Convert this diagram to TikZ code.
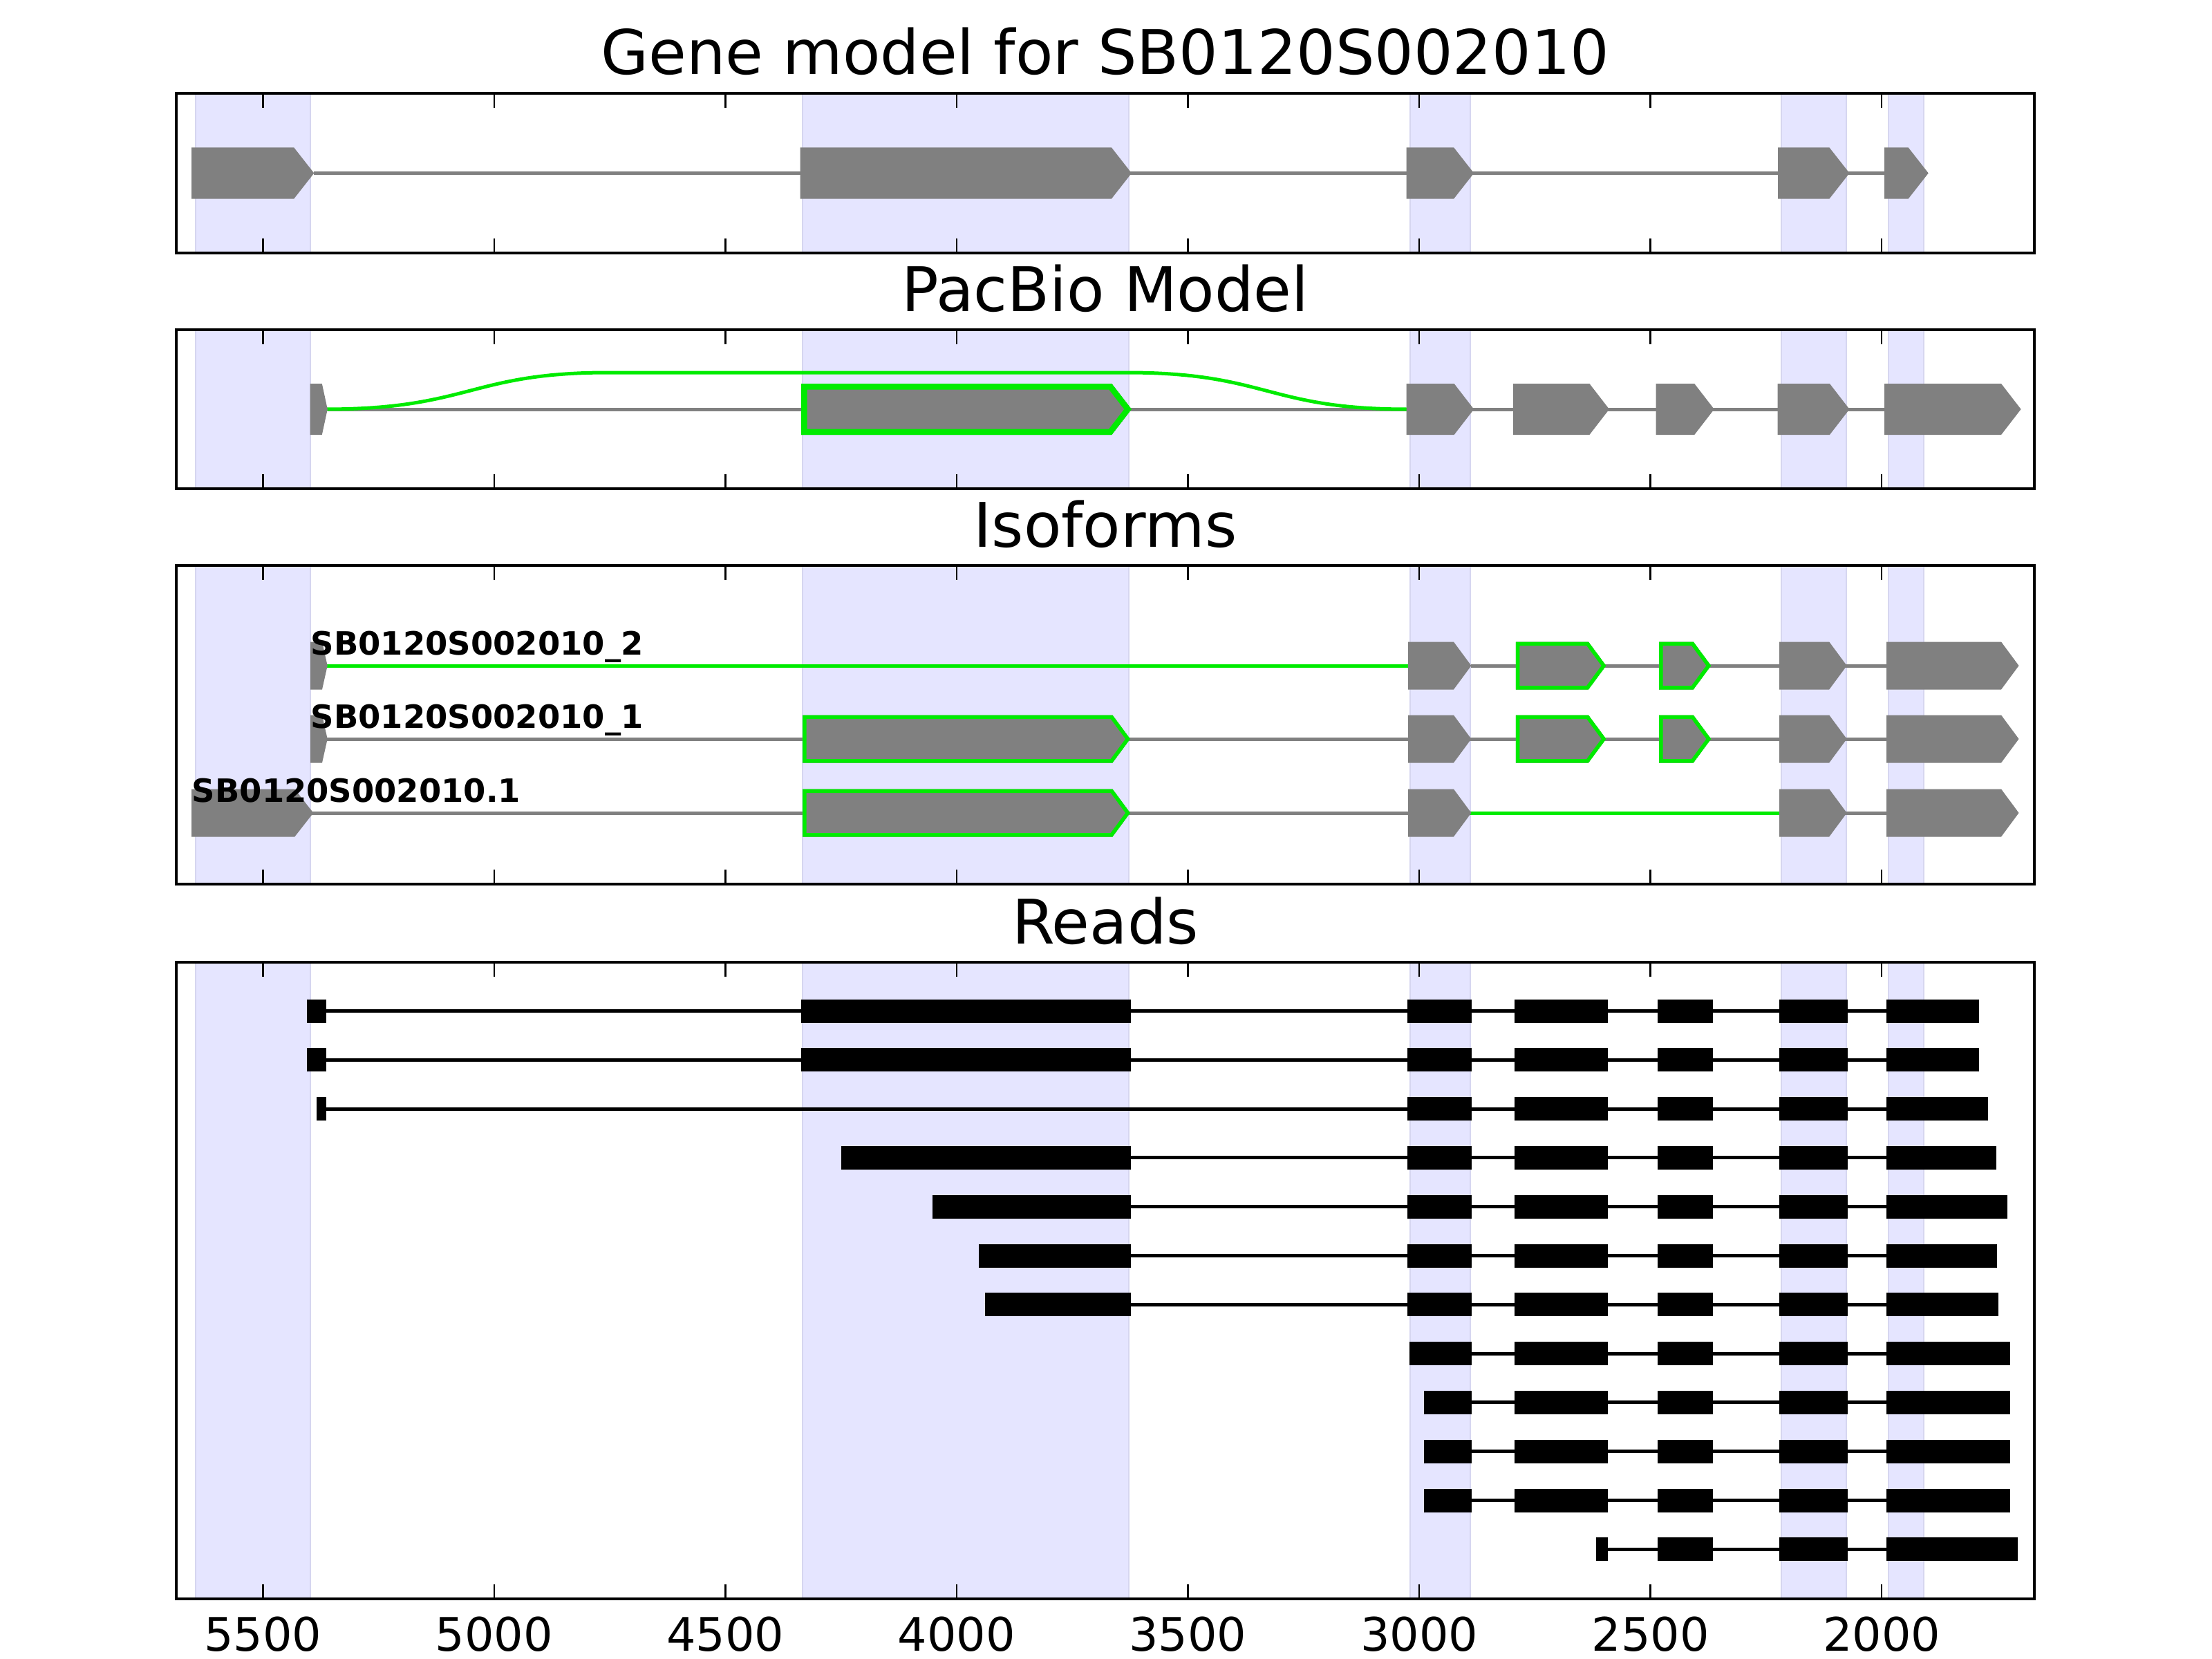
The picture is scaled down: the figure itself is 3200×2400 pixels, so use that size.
\documentclass[tikz,border=0pt]{standalone}
\usepackage{fontspec}
\setmainfont{DejaVu Sans}
\definecolor{exgray}{RGB}{128,128,128}
\definecolor{isogreen}{RGB}{0,235,0}
\definecolor{spanfill}{RGB}{229,229,255}
\definecolor{spanline}{RGB}{214,214,240}
\tikzset{
 spanbox/.style={fill=spanfill, draw=none},
 spanedge/.style={draw=spanline, line width=0.025cm},
 framebox/.style={draw=black, line width=0.045cm},
 tickmark/.style={draw=black, line width=0.025cm},
 intron/.style={draw=exgray, line width=0.05cm},
 gintron/.style={draw=isogreen, line width=0.05cm},
 exonfill/.style={fill=exgray},
 readline/.style={draw=black, line width=0.05cm},
 readblk/.style={fill=black},
 titletext/.style={anchor=base, font=\fontsize{25.3}{30}\selectfont, inner sep=0},
 ticktext/.style={anchor=base, font=\fontsize{19}{22}\selectfont, inner sep=0},
 isotext/.style={anchor=base west, font=\bfseries\fontsize{13.2}{15}\selectfont, inner sep=0},
}
% exon arrow: start, tip, ycenter, halfheight, headlength
\newcommand\gmexon[5]{\fill[exonfill] (#1,{#3-#4}) -- ({#2-#5},{#3-#4}) -- (#2,#3) -- ({#2-#5},{#3+#4}) -- (#1,{#3+#4}) -- cycle;}
\newcommand\gmgexon[6]{\begin{scope}
 \clip (#1,{#3-#4}) -- ({#2-#5},{#3-#4}) -- (#2,#3) -- ({#2-#5},{#3+#4}) -- (#1,{#3+#4}) -- cycle;
 \fill[exonfill] (#1,{#3-#4}) -- ({#2-#5},{#3-#4}) -- (#2,#3) -- ({#2-#5},{#3+#4}) -- (#1,{#3+#4}) -- cycle;
 \draw[isogreen, line width=#6] (#1,{#3-#4}) -- ({#2-#5},{#3-#4}) -- (#2,#3) -- ({#2-#5},{#3+#4}) -- (#1,{#3+#4}) -- cycle;
 \end{scope}}
\newcommand\gmspans[2]{\foreach \sa/\sb in {283/449,1161/1633,2040/2127,2577/2671,2732/2783}{
  \fill[spanbox] (\sa,#1) rectangle (\sb,#2);
  \draw[spanedge] (\sa,#1) -- (\sa,#2) (\sb,#1) -- (\sb,#2);}}
\newcommand\gmframe[2]{\foreach \tx in {380.3,714.9,1049.4,1384.0,1718.5,2053.1,2387.6,2722.2}{
  \draw[tickmark] (\tx,#1) -- ++(0,21);
  \draw[tickmark] (\tx,#2) -- ++(0,-21);}
  \draw[framebox] (255,#1) rectangle (2943,#2);}
\newcommand\gmread[2]{\foreach \ra/\rb in {#2}{\fill[readblk] (\ra,{#1-17}) rectangle (\rb,{#1+17});}}
\begin{document}
\begin{tikzpicture}[x=0.01cm, y=-0.01cm]
\useasboundingbox (0,0) rectangle (3200,2400);
% ---------- titles
\node[titletext] (t1) at (1599,108) {Gene model for SB0120S002010};
\node[titletext] (t2) at (1599,450) {PacBio Model};
\node[titletext] (t3) at (1599,791) {Isoforms};
\node[titletext] (t4) at (1599,1365) {Reads};
% ---------- panel 1
\gmspans{135}{366}
\draw[intron] (454,250.5) -- (2726,250.5);
\gmexon{277.1}{454.3}{250.5}{37}{29}
\gmexon{1157.5}{1637}{250.5}{37}{29}
\gmexon{2034.6}{2132.2}{250.5}{37}{29}
\gmexon{2572.2}{2675.5}{250.5}{37}{29}
\gmexon{2726}{2789.7}{250.5}{37}{29}
\gmframe{135}{366}
% ---------- panel 2
\gmspans{477}{707}
\draw[intron] (474,592) -- (2726,592);
\draw[gintron] (470,592) .. controls (680,592) and (680,539) .. (880,539) -- (1630,539) .. controls (1833,539) and (1833,592) .. (2036,592);
\gmexon{448.6}{473.8}{592}{37}{8}
\gmgexon{1159}{1637}{592}{37}{28.6}{0.17cm}
\gmexon{2034.6}{2132.2}{592}{37}{28.6}
\gmexon{2189}{2328}{592}{37}{28.6}
\gmexon{2395.6}{2479.8}{592}{37}{28.6}
\gmexon{2571.6}{2675.5}{592}{37}{28.6}
\gmexon{2726}{2923.6}{592}{37}{28.6}
\gmframe{477}{707}
% ---------- panel 3
\gmspans{818}{1279}
% row 1
\draw[intron] (2128,963) -- (2729,963);
\draw[gintron] (468,963) -- (2041,963);
\gmexon{449}{473.7}{963}{34.5}{7.7}
\gmexon{2037.2}{2128.4}{963}{34.5}{25.5}
\gmgexon{2192.8}{2323.5}{963}{34.5}{25.5}{0.11cm}
\gmgexon{2400}{2475.3}{963}{34.5}{25.5}{0.11cm}
\gmexon{2574.2}{2671.7}{963}{34.5}{25.5}
\gmexon{2729.1}{2920.5}{963}{34.5}{25.5}
% row 2
\draw[intron] (470,1069) -- (2729,1069);
\gmexon{449}{473.7}{1069}{34.5}{7.7}
\gmgexon{1161}{1635}{1069}{34.5}{25.5}{0.11cm}
\gmexon{2037.2}{2128.4}{1069}{34.5}{25.5}
\gmgexon{2192.8}{2323.5}{1069}{34.5}{25.5}{0.11cm}
\gmgexon{2400}{2475.3}{1069}{34.5}{25.5}{0.11cm}
\gmexon{2574.2}{2671.7}{1069}{34.5}{25.5}
\gmexon{2729.1}{2920.5}{1069}{34.5}{25.5}
% row 3
\draw[intron] (450,1176) -- (2729,1176);
\draw[gintron] (2127,1176) -- (2578,1176);
\gmexon{277.2}{453.3}{1176}{34.5}{27}
\gmgexon{1161}{1635}{1176}{34.5}{25.5}{0.11cm}
\gmexon{2037.2}{2128.4}{1176}{34.5}{25.5}
\gmexon{2574.2}{2671.7}{1176}{34.5}{25.5}
\gmexon{2729.1}{2920.5}{1176}{34.5}{25.5}
\node[isotext] (l2) at (449,947) {SB0120S002010\_2};
\node[isotext] (l1) at (449,1053) {SB0120S002010\_1};
\node[isotext] (l0) at (277.2,1160) {SB0120S002010.1};
\gmframe{818}{1279}
% ---------- panel 4 reads
\gmspans{1392}{2313}
\draw[readline] (444,1462.5) -- (2863,1462.5);
\gmread{1462.5}{444/471.5,1159.4/1635.7,2036.3/2129.4,2191.3/2326.3,2398.1/2477.5,2573.8/2673.1,2728.8/2863}
\draw[readline] (444,1533.3) -- (2863,1533.3);
\gmread{1533.3}{444/471.5,1159.4/1635.7,2036.3/2129.4,2191.3/2326.3,2398.1/2477.5,2573.8/2673.1,2728.8/2863}
\draw[readline] (458,1604.1) -- (2875.5,1604.1);
\gmread{1604.1}{458/471.5,2036.3/2129.4,2191.3/2326.3,2398.1/2477.5,2573.8/2673.1,2728.8/2875.5}
\draw[readline] (1217,1674.9) -- (2887.7,1674.9);
\gmread{1674.9}{1217/1635.7,2036.3/2129.4,2191.3/2326.3,2398.1/2477.5,2573.8/2673.1,2728.8/2887.7}
\draw[readline] (1349,1745.7) -- (2904,1745.7);
\gmread{1745.7}{1349/1635.7,2036.3/2129.4,2191.3/2326.3,2398.1/2477.5,2573.8/2673.1,2728.8/2904}
\draw[readline] (1416.3,1816.5) -- (2889.4,1816.5);
\gmread{1816.5}{1416.3/1635.7,2036.3/2129.4,2191.3/2326.3,2398.1/2477.5,2573.8/2673.1,2728.8/2889.4}
\draw[readline] (1424.5,1887.3) -- (2890.6,1887.3);
\gmread{1887.3}{1424.5/1635.7,2036.3/2129.4,2191.3/2326.3,2398.1/2477.5,2573.8/2673.1,2728.8/2890.6}
\draw[readline] (2038.8,1958.1) -- (2908,1958.1);
\gmread{1958.1}{2038.8/2129.4,2191.3/2326.3,2398.1/2477.5,2573.8/2673.1,2728.8/2908}
\draw[readline] (2060,2028.9) -- (2908,2028.9);
\gmread{2028.9}{2060/2129.4,2191.3/2326.3,2398.1/2477.5,2573.8/2673.1,2728.8/2908}
\draw[readline] (2060,2099.7) -- (2908,2099.7);
\gmread{2099.7}{2060/2129.4,2191.3/2326.3,2398.1/2477.5,2573.8/2673.1,2728.8/2908}
\draw[readline] (2060,2170.5) -- (2908,2170.5);
\gmread{2170.5}{2060/2129.4,2191.3/2326.3,2398.1/2477.5,2573.8/2673.1,2728.8/2908}
\draw[readline] (2308.8,2241.3) -- (2919.4,2241.3);
\gmread{2241.3}{2308.8/2325.6,2398.1/2477.5,2573.8/2673.1,2728.8/2919.4}
\gmframe{1392}{2313}
% ---------- tick labels
\foreach \tx/\tl in {380.3/5500,714.9/5000,1049.4/4500,1384.0/4000,1718.5/3500,2053.1/3000,2387.6/2500,2722.2/2000}{
  \node[ticktext] (tl\tl) at (\tx,2388) {\tl};}
\end{tikzpicture}
\end{document}
